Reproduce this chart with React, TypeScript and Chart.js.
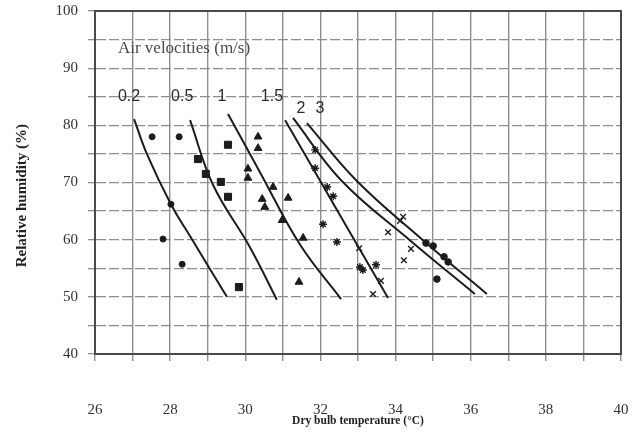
import React, { useEffect, useRef } from "react";
import { Chart, registerables } from "chart.js";

Chart.register(...registerables);

// ---- Axis tick labels ----
const xTickLabels = [26, 28, 30, 32, 34, 36, 38, 40];
const yTickLabels = [40, 50, 60, 70, 80, 90, 100];

// ---- Fitted curves (air velocity, m/s) ----
const curve02X = [27.04, 27.38, 28.02, 28.56, 29.51];
const curve02Y = [81.1, 75.0, 66.2, 60.3, 50.0];
const curve05X = [28.53, 29.14, 30.13, 30.84];
const curve05Y = [80.9, 69.6, 58.6, 49.5];
const curve1X = [29.54, 30.39, 31.46, 32.55];
const curve1Y = [82.0, 71.8, 59.1, 49.6];
const curve15X = [31.06, 32.44, 33.8];
const curve15Y = [80.9, 65.2, 49.8];
const curve2X = [31.27, 32.55, 34.38, 36.11];
const curve2Y = [81.3, 70.4, 59.9, 50.5];
const curve3X = [31.64, 32.95, 34.73, 36.43];
const curve3Y = [80.4, 70.4, 59.9, 50.5];

// ---- Observations ----
const circlesX = [27.52, 28.24, 28.02, 27.81, 28.32];
const circlesY = [78.0, 78.0, 66.2, 60.1, 55.7];
const squaresX = [29.54, 28.74, 28.95, 29.35, 29.54, 29.83];
const squaresY = [76.6, 74.1, 71.5, 70.1, 67.5, 51.7];
const trianglesX = [30.34, 30.34, 30.07, 30.07, 30.74, 30.45, 31.14, 30.52, 30.98, 31.54, 31.43];
const trianglesY = [78.0, 76.0, 72.4, 70.8, 69.2, 67.1, 67.3, 65.7, 63.4, 60.3, 52.6];
const starsX = [31.86, 31.86, 32.18, 32.34, 32.07, 32.44, 33.05, 33.13, 33.48];
const starsY = [75.7, 72.5, 69.2, 67.6, 62.7, 59.6, 55.2, 54.7, 55.6];
const crossesX = [33.03, 33.61, 33.4, 34.2, 34.12, 33.8, 34.41, 34.22];
const crossesY = [58.5, 52.8, 50.5, 64.0, 63.3, 61.3, 58.4, 56.4];
const dotsX = [34.81, 35.0, 35.29, 35.4, 35.1];
const dotsY = [59.4, 58.9, 57.0, 56.1, 53.1];

// ---- Annotation texts ----
const velocityLabels = ["0.2", "0.5", "1", "1.5", "2", "3"];
const velocityLabelX = [26.905, 28.32, 29.38, 30.71, 31.48, 31.99];
const velocityLabelY = [84.96, 84.96, 84.96, 84.96, 82.86, 82.86];
const headerText = "Air velocities (m/s)";
const headerX = 26.61;
const headerY = 93.35;

const pts = (xs: number[], ys: number[]) => xs.map((x, i) => ({ x, y: ys[i] }));

const INK = "#1c1c1c";

const frameAndText = {
  id: "frameAndText",
  afterDatasetsDraw(chart: any) {
    const { ctx, chartArea, scales } = chart;
    const xs = scales.x;
    const ys = scales.y;
    ctx.save();
    ctx.strokeStyle = "#4a4a4a";
    ctx.lineWidth = 2;
    ctx.strokeRect(chartArea.left, chartArea.top, chartArea.right - chartArea.left, chartArea.bottom - chartArea.top);

    ctx.fillStyle = "#4a4a4a";
    ctx.font = "17px 'Liberation Serif', 'DejaVu Serif', serif";
    ctx.textAlign = "left";
    ctx.textBaseline = "middle";
    ctx.fillText(headerText, xs.getPixelForValue(headerX), ys.getPixelForValue(headerY));

    ctx.fillStyle = "#2a2a2a";
    ctx.font = "16px 'Liberation Sans', Arial, sans-serif";
    ctx.textAlign = "center";
    velocityLabels.forEach((t, i) => {
      ctx.fillText(t, xs.getPixelForValue(velocityLabelX[i]), ys.getPixelForValue(velocityLabelY[i]));
    });
    ctx.restore();
  },
};

export default function App() {
  const canvasRef = useRef<HTMLCanvasElement | null>(null);

  useEffect(() => {
    document.body.style.margin = "0";
    const canvas = canvasRef.current;
    if (!canvas) return;

    const lineDs = (xs: number[], ys: number[]) => ({
      type: "line" as const,
      data: pts(xs, ys),
      borderColor: INK,
      borderWidth: 2,
      pointRadius: 0,
      tension: 0.4,
      fill: false,
    });
    const markDs = (xs: number[], ys: number[], style: string, radius: number, filled = true) => ({
      type: "scatter" as const,
      data: pts(xs, ys),
      pointStyle: style,
      pointRadius: radius,
      pointBackgroundColor: filled ? INK : "transparent",
      pointBorderColor: INK,
      pointBorderWidth: filled ? 1 : 1.4,
      showLine: false,
    });

    const chart = new Chart(canvas, {
      type: "scatter",
      data: {
        datasets: [
          lineDs(curve02X, curve02Y),
          lineDs(curve05X, curve05Y),
          lineDs(curve1X, curve1Y),
          lineDs(curve15X, curve15Y),
          lineDs(curve2X, curve2Y),
          lineDs(curve3X, curve3Y),
          markDs(circlesX, circlesY, "circle", 3),
          markDs(squaresX, squaresY, "rect", 5),
          markDs(trianglesX, trianglesY, "triangle", 4.5),
          markDs(starsX, starsY, "star", 4, false),
          markDs(crossesX, crossesY, "crossRot", 4, false),
          markDs(dotsX, dotsY, "circle", 3.3),
        ] as any,
      },
      options: {
        animation: false,
        responsive: false,
        maintainAspectRatio: false,
        layout: { padding: { top: 11, right: 15, left: 0, bottom: 0 } },
        plugins: {
          legend: { display: false },
          tooltip: { enabled: false },
        },
        scales: {
          x: {
            type: "linear",
            min: 26,
            max: 40,
            afterFit: (s: any) => {
              s.height = 82;
            },
            ticks: {
              stepSize: 1,
              autoSkip: false,
              maxRotation: 0,
              padding: 4,
              color: "#333",
              font: { family: "'Liberation Serif', serif", size: 15, lineHeight: "90px" },
              callback: (v: any) => (xTickLabels.includes(Number(v)) ? String(v) : ""),
            },
            grid: { color: "#8e8e8e", lineWidth: 1.4, tickLength: 7 },
            border: { display: true, color: "#4a4a4a", width: 2 },
            title: {
              display: true,
              text: "Dry bulb temperature (°C)",
              color: "#222",
              font: { family: "'Liberation Serif', serif", size: 11.5, weight: "bold" },
              padding: { top: 0, bottom: 8 },
            },
          },
          y: {
            type: "linear",
            min: 40,
            max: 100,
            afterFit: (s: any) => {
              s.width = 95;
            },
            ticks: {
              stepSize: 5,
              autoSkip: false,
              padding: 10,
              color: "#333",
              font: { family: "'Liberation Serif', serif", size: 15, lineHeight: "1px" },
              callback: (v: any) => (yTickLabels.includes(Number(v)) ? String(v) : ""),
            },
            grid: { color: "#8e8e8e", lineWidth: 1.3, tickLength: 7 },
            border: { display: true, color: "#4a4a4a", width: 2, dash: [10, 3] },
            title: {
              display: true,
              text: "Relative humidity (%)\u00a0\u00a0\u00a0\u00a0\u00a0\u00a0\u00a0",
              color: "#222",
              font: { family: "'Liberation Serif', serif", size: 15, weight: "bold" },
              padding: { top: 13, bottom: 0 },
            },
          },
        },
      },
      plugins: [frameAndText],
    } as any);

    return () => chart.destroy();
  }, []);

  return (
    <div style={{ width: 636, height: 436, background: "#fff" }}>
      <canvas ref={canvasRef} width={636} height={436} style={{ display: "block", width: 636, height: 436 }} />
    </div>
  );
}
